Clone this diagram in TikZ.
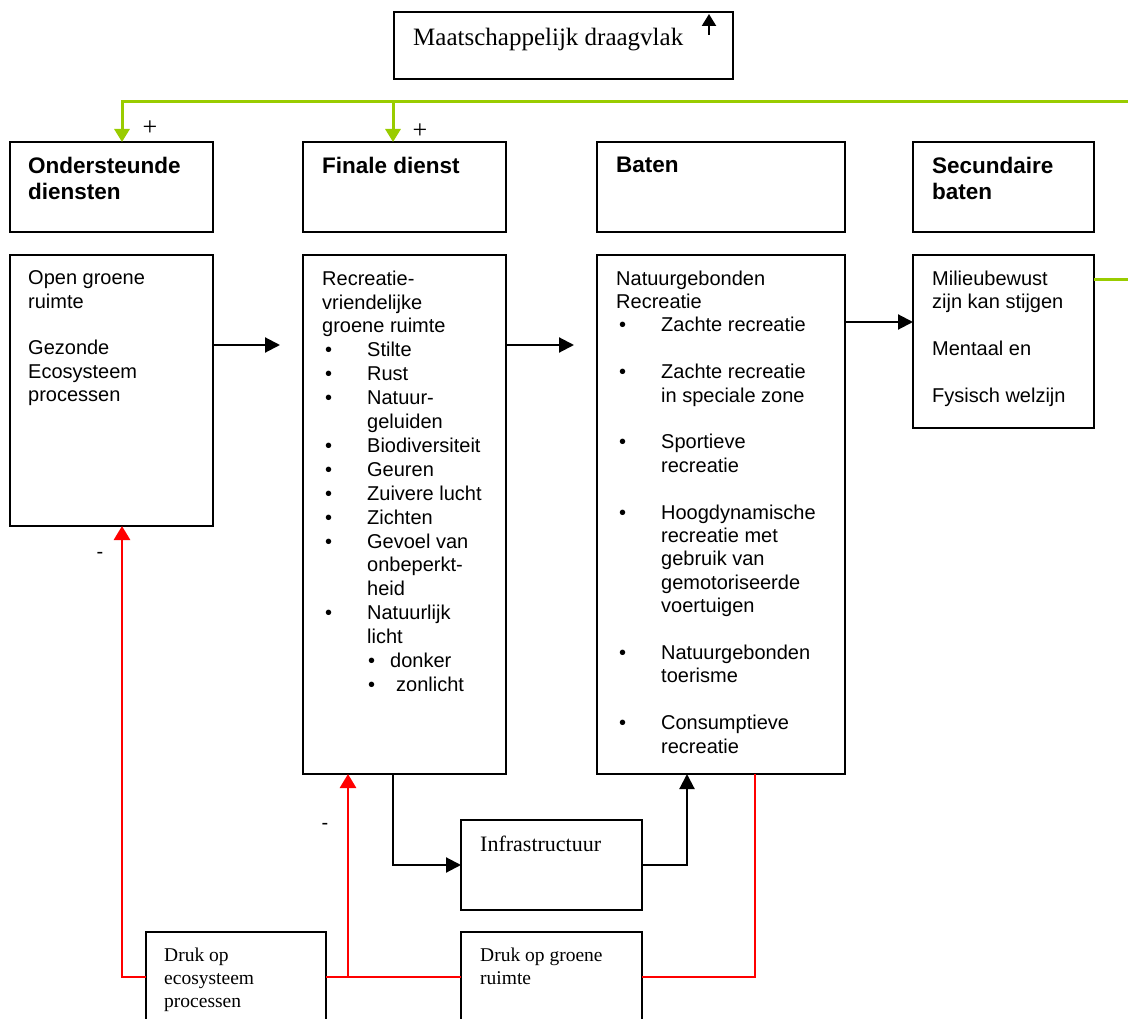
\documentclass[tikz,border=0pt]{standalone}
\usepackage{fontspec}
\setmainfont{Liberation Serif}
\setsansfont{Liberation Sans}
\usepackage{xcolor}
\definecolor{lijngroen}{RGB}{153,204,0}
\definecolor{lijnrood}{RGB}{255,0,0}
\usetikzlibrary{arrows.meta}
\usetikzlibrary{positioning}
\newcommand{\kopletter}{\sffamily\bfseries\fontsize{22.5}{26}\selectfont}
\newcommand{\lijstletter}{\sffamily\fontsize{20}{23.4}\selectfont}
\newcommand{\drukletter}{\rmfamily\fontsize{19.5}{23}\selectfont}
\newcommand{\itm}[1]{\makebox[45pt][l]{\hspace{3pt}\textbullet}#1}
\newcommand{\subitm}[1]{\hspace*{45pt}\makebox[23pt][l]{\hspace{1pt}\textbullet}#1}
\newcommand{\inspring}{\hspace*{45pt}}
\tikzset{
    common/.style={anchor=north west, draw, rectangle, line width=1.9pt, inner sep=0pt, outer sep=0pt},
    kop/.style={common, minimum height=90pt},
    tekst/.style={anchor=north west, align=left, inner sep=0pt, font=\lijstletter},
    koptekst/.style={tekst, font=\kopletter},
    druktekst/.style={tekst, font=\drukletter},
    pijl/.style={line width=2.1pt, -{Triangle[length=15pt, width=15pt]}},
    rood/.style={line width=2.8pt, lijnrood},
    groen/.style={line width=3pt, lijngroen},
    teken/.style={inner sep=0pt}
}

\begin{document}
\begin{tikzpicture}[x=1pt, y=-1pt]
\useasboundingbox (0,0) rectangle (1128,1019);

% kopjes
\node[common, minimum width=339pt, minimum height=67pt] (maat) at (394,12) {};
\node[kop, minimum width=203pt] (ond) at (10,142) {};
\node[kop, minimum width=203pt] (fin) at (303,142) {};
\node[kop, minimum width=248pt] (bat) at (597,142) {};
\node[kop, minimum width=181pt] (sec) at (913,142) {};

% inhoud
\node[common, minimum width=203pt, minimum height=271pt] (ogr) at (10,255) {};
\node[common, minimum width=203pt, minimum height=519pt] (rvg) at (303,255) {};
\node[common, minimum width=248pt, minimum height=519pt] (nat) at (597,255) {};
\node[common, minimum width=181pt, minimum height=173pt] (mil) at (913,255) {};
\node[common, minimum width=181pt, minimum height=90pt] (infra) at (461,820) {};
\node[common, minimum width=180pt, minimum height=100pt] (deco) at (146,932) {};
\node[common, minimum width=181pt, minimum height=100pt] (dgr) at (461,932) {};

\node[tekst, font=\rmfamily\fontsize{25}{28}\selectfont] (maat-t) at ([shift={(19pt,-16pt)}]maat.north west) {Maatschappelijk draagvlak};
\node[koptekst] (ond-t) at ([shift={(18pt,-14.5pt)}]ond.north west) {Ondersteunde\\diensten};
\node[koptekst] (fin-t) at ([shift={(19pt,-14.5pt)}]fin.north west) {Finale dienst};
\node[koptekst] (bat-t) at ([shift={(19pt,-14.5pt)}]bat.north west) {Baten};
\node[koptekst] (sec-t) at ([shift={(19pt,-14.5pt)}]sec.north west) {Secundaire\\baten};

\node[tekst] (ogr-t) at ([shift={(18pt,-15.5pt)}]ogr.north west)
    {Open groene\\ruimte\\[\baselineskip]Gezonde\\Ecosysteem\\processen};
\node[tekst, font=\sffamily\fontsize{20}{23.9}\selectfont] (rvg-t) at ([shift={(19pt,-15.5pt)}]rvg.north west)
    {Recreatie-\\vriendelijke\\groene ruimte\\
     \itm{Stilte}\\\itm{Rust}\\\itm{Natuur-}\\\inspring geluiden\\
     \itm{Biodiversiteit}\\\itm{Geuren}\\\itm{Zuivere lucht}\\\itm{Zichten}\\
     \itm{Gevoel van}\\\inspring onbeperkt-\\\inspring heid\\
     \itm{Natuurlijk}\\\inspring licht\\
     \subitm{donker}\\\subitm{\hspace{6pt}zonlicht}};
\node[tekst] (nat-t) at ([shift={(19pt,-15.5pt)}]nat.north west)
    {Natuurgebonden\\Recreatie\\
     \itm{Zachte recreatie}\\[\baselineskip]
     \itm{Zachte recreatie}\\\inspring in speciale zone\\[\baselineskip]
     \itm{Sportieve}\\\inspring recreatie\\[\baselineskip]
     \itm{Hoogdynamische}\\\inspring recreatie met\\\inspring gebruik van\\\inspring gemotoriseerde\\\inspring voertuigen\\[\baselineskip]
     \itm{Natuurgebonden}\\\inspring toerisme\\[\baselineskip]
     \itm{Consumptieve}\\\inspring recreatie};
\node[tekst] (mil-t) at ([shift={(19pt,-15.5pt)}]mil.north west)
    {Milieubewust\\zijn kan stijgen\\[\baselineskip]Mentaal en\\[\baselineskip]Fysisch welzijn};
\node[druktekst, font=\rmfamily\fontsize{22}{25}\selectfont] (infra-t) at ([shift={(19pt,-15.5pt)}]infra.north west) {Infrastructuur};
\node[druktekst] (deco-t) at ([shift={(18pt,-16pt)}]deco.north west) {Druk op\\ecosysteem\\processen};
\node[druktekst] (dgr-t) at ([shift={(19pt,-16pt)}]dgr.north west) {Druk op groene\\ruimte};

% tekens bij de lijnen
\node[teken, font=\rmfamily\fontsize{26}{28}\selectfont] (plus1) at (150,128) {+};
\node[teken, font=\rmfamily\fontsize{26}{28}\selectfont] (plus2) at (420,131) {+};
\node[teken, font=\sffamily\fontsize{20}{24}\selectfont] (min1) at (100,555) {-};
\node[teken, font=\sffamily\fontsize{20}{24}\selectfont] (min2) at (325,826) {-};

% hulppunten
\coordinate (m1) at (709,35);
\coordinate (m2) at (709,14);
\coordinate (p1) at (280,345);
\coordinate (p2) at (574,345);
\coordinate (p3) at (913,322);
\coordinate (k1) at (393,865);
\coordinate (k2) at (687,865);
\coordinate (r1) at (122,977);
\coordinate (r2) at (348,977);
\coordinate (r3) at (755,977);
\coordinate (g0) at (1140,102);
\coordinate (g1) at (122,102);
\coordinate (g2) at (393,102);
\coordinate (g3) at (1140,280);

% zwarte pijlen
\draw[line width=2.2pt, -{Triangle[length=12pt, width=14pt]}] (m1) -- (m2);
\draw[pijl] (ogr.east |- p1) -- (p1);
\draw[pijl] (rvg.east |- p2) -- (p2);
\draw[pijl] (nat.east |- p3) -- (p3);
\draw[pijl] (rvg.south -| k1) -- (k1) -- (infra.west);
\draw[pijl] (infra.east) -- (k2) -- (k2 |- nat.south);

% druk (rood)
\draw[rood, -{Triangle[length=14pt, width=16pt]}] (deco.west |- r1) -- (r1) -- (r1 |- ogr.south);
\draw[rood] (deco.east |- r1) -- (dgr.west |- r1);
\draw[rood, -{Triangle[length=14pt, width=16pt]}] (r2) -- (r2 |- rvg.south);
\draw[rood] (dgr.east |- r3) -- (r3) -- (r3 |- nat.south);

% terugkoppeling (groen)
\draw[groen, -{Triangle[length=13pt, width=15pt]}] (mil.east |- g3) -- (g3) -- (g0) -- (g1) -- (g1 |- ond.north);
\draw[groen, -{Triangle[length=13pt, width=15pt]}] (g2) -- (g2 |- fin.north);
\end{tikzpicture}
\end{document}
